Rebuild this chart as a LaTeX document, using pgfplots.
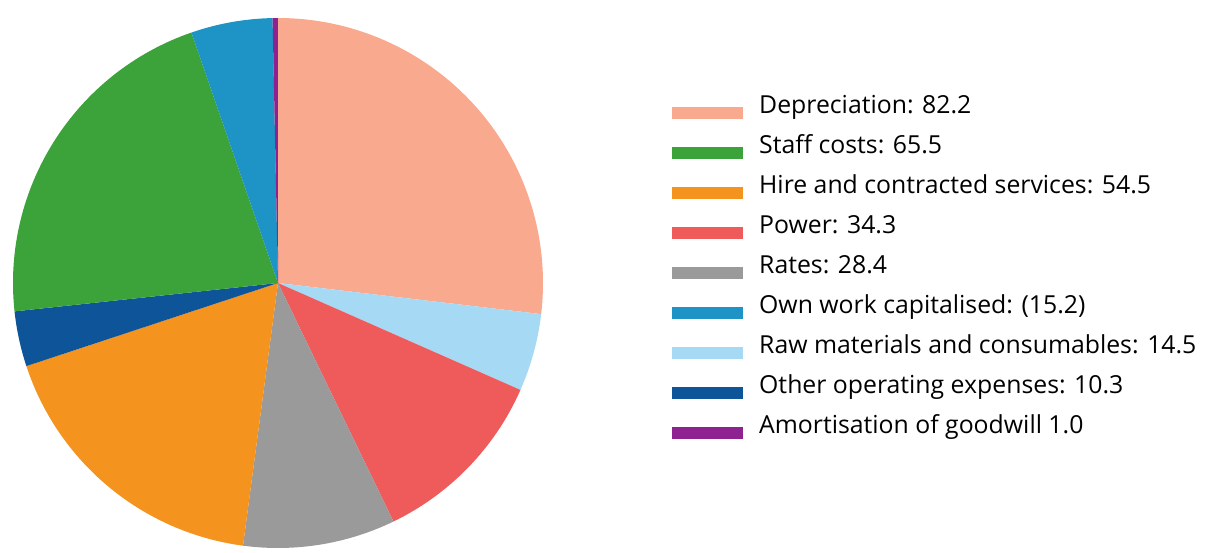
\documentclass[border=0pt]{standalone}
\usepackage{pgfplots}
\pgfplotsset{compat=1.18}
\usepackage{fontspec}
\setmainfont{Open Sans}
\definecolor{cDep}{HTML}{F9A98E}
\definecolor{cStaff}{HTML}{3BA33A}
\definecolor{cHire}{HTML}{F5931F}
\definecolor{cPower}{HTML}{EF5B5B}
\definecolor{cRates}{HTML}{9A9A9A}
\definecolor{cOwn}{HTML}{1E93C5}
\definecolor{cRaw}{HTML}{A6D9F4}
\definecolor{cOther}{HTML}{0D5499}
\definecolor{cAmort}{HTML}{8E2290}
% values
\def\vDep{82.2}
\def\vStaff{65.5}
\def\vHire{54.5}
\def\vPower{34.3}
\def\vRates{28.4}
\def\vOwn{15.2}
\def\vRaw{14.5}
\def\vOther{10.3}
\def\vAmort{1.0}
\pgfmathsetmacro\T{\vDep+\vStaff+\vHire+\vPower+\vRates+\vOwn+\vRaw+\vOther+\vAmort}
% clockwise from 12 o'clock
\pgfmathsetmacro\aA{90}
\pgfmathsetmacro\aB{\aA-\vDep/\T*360}
\pgfmathsetmacro\aC{\aB-\vRaw/\T*360}
\pgfmathsetmacro\aD{\aC-\vPower/\T*360}
\pgfmathsetmacro\aE{\aD-\vRates/\T*360}
\pgfmathsetmacro\aF{\aE-\vHire/\T*360}
\pgfmathsetmacro\aG{\aF-\vOther/\T*360}
\pgfmathsetmacro\aH{\aG-\vStaff/\T*360}
\pgfmathsetmacro\aI{\aH-\vOwn/\T*360}
\pgfmathsetmacro\aJ{\aI-\vAmort/\T*360}
\newcommand\slice[3]{\fill[#3] (axis cs:278,265) -- ++(#1:132.5bp) arc[start angle=#1, end angle=#2, radius=132.5bp] -- cycle;}
\begin{document}
\begin{tikzpicture}
\begin{axis}[
  scale only axis, width=604bp, height=274bp,
  xmin=0, xmax=1208, ymin=0, ymax=548,
  hide axis, clip=false,
  legend cell align=left,
  legend style={draw=none, fill=none, at={(axis cs:666,459)}, anchor=north west,
    font=\fontsize{12.4bp}{13bp}\selectfont, column sep=8bp,
    nodes={inner sep=0pt, text height=10bp, text depth=10bp}},
  legend image code/.code={\fill[#1] (0bp,-2.4bp) rectangle (35bp,3.1bp);},
]
\path (axis cs:0,0) rectangle (axis cs:1208,548);
\slice{\aA}{\aB}{cDep}
\slice{\aB}{\aC}{cRaw}
\slice{\aC}{\aD}{cPower}
\slice{\aD}{\aE}{cRates}
\slice{\aE}{\aF}{cHire}
\slice{\aF}{\aG}{cOther}
\slice{\aG}{\aH}{cStaff}
\slice{\aH}{\aI}{cOwn}
\slice{\aI}{\aJ}{cAmort}
\addlegendimage{cDep}\addlegendentry{Depreciation: 82.2}
\addlegendimage{cStaff}\addlegendentry{Staff costs: 65.5}
\addlegendimage{cHire}\addlegendentry{Hire and contracted services: 54.5}
\addlegendimage{cPower}\addlegendentry{Power: 34.3}
\addlegendimage{cRates}\addlegendentry{Rates: 28.4}
\addlegendimage{cOwn}\addlegendentry{Own work capitalised: (15.2)}
\addlegendimage{cRaw}\addlegendentry{Raw materials and consumables: 14.5}
\addlegendimage{cOther}\addlegendentry{Other operating expenses: 10.3}
\addlegendimage{cAmort}\addlegendentry{Amortisation of goodwill 1.0}
\end{axis}
\end{tikzpicture}
\end{document}
